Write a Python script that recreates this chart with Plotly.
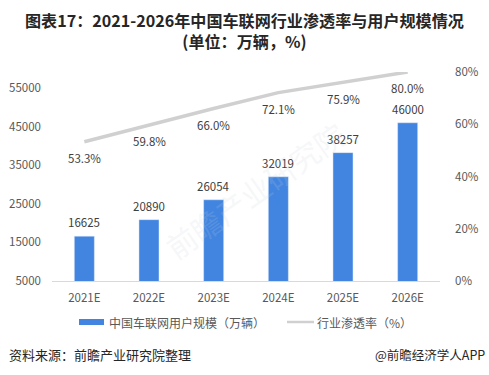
import plotly.graph_objects as go

years = ["2021E", "2022E", "2023E", "2024E", "2025E", "2026E"]
users = [16625, 20890, 26054, 32019, 38257, 46000]
rate = [0.533, 0.598, 0.660, 0.721, 0.759, 0.800]
left_ticks = [5000, 15000, 25000, 35000, 45000, 55000]
right_ticks = [0, 0.2, 0.4, 0.6, 0.8]
right_labels = ["0%", "20%", "40%", "60%", "80%"]
bar_name = "中国车联网用户规模（万辆）"
line_name = "行业渗透率（%）"

FONT = "Noto Sans CJK SC"
TXT = "#404040"
AX = "#595959"
BLUE = "#4185e0"
GRAY = "#d0d0d0"

W, H = 489, 375
L, R, T, B = 52, 49, 72, 94
pw, ph = W - L - R, H - T - B
def px(x): return (x - L) / pw
def py(y): return (H - B - y) / ph

fig = go.Figure()
fig.add_trace(go.Bar(
    x=years, y=users, name=bar_name,
    marker_color=BLUE, width=0.31, yaxis="y",
))
fig.add_trace(go.Scatter(
    x=years, y=rate, name=line_name, mode="lines",
    line=dict(color=GRAY, width=3.5), yaxis="y2",
))

for x, v in zip(years, users):
    fig.add_annotation(x=x, y=v, xref="x", yref="y", text=str(v), showarrow=False,
                       yshift=14, font=dict(size=11.5, color=TXT, family=FONT))
for x, r in zip(years, rate):
    fig.add_annotation(x=x, y=r, xref="x", yref="y2", text=f"{r*100:.1f}%", showarrow=False,
                       yshift=-16, font=dict(size=11.5, color=TXT, family=FONT))

# title
fig.add_annotation(x=px(244), y=py(30.5), xref="paper", yref="paper", xanchor="center", yanchor="middle",
                   showarrow=False,
                   text="<b>图表17：2021-2026年中国车联网行业渗透率与用户规模情况</b><br><b>(单位：万辆，%)</b>",
                   font=dict(size=16.1, color="#262626", family=FONT))

# manual legend
fig.add_shape(type="rect", xref="paper", yref="paper", x0=px(79), x1=px(104), y0=py(319), y1=py(325),
              fillcolor=BLUE, line=dict(width=0))
fig.add_annotation(x=px(107), y=py(322), xref="paper", yref="paper", xanchor="left", yanchor="middle",
                   showarrow=False, text=bar_name, font=dict(size=12, color=AX, family=FONT))
fig.add_shape(type="line", xref="paper", yref="paper", x0=px(287), x1=px(314), y0=py(322), y1=py(322),
              line=dict(color=GRAY, width=2.5))
fig.add_annotation(x=px(315), y=py(322), xref="paper", yref="paper", xanchor="left", yanchor="middle",
                   showarrow=False, text=line_name, font=dict(size=12, color=AX, family=FONT))

# footer
fig.add_annotation(x=px(7), y=py(354), xref="paper", yref="paper", xanchor="left", yanchor="middle",
                   showarrow=False, text="资料来源：前瞻产业研究院整理",
                   font=dict(size=13, color="#262626", family=FONT))
fig.add_annotation(x=px(487), y=py(354), xref="paper", yref="paper", xanchor="right", yanchor="middle",
                   showarrow=False, text="@前瞻经济学人APP",
                   font=dict(size=12.5, color="#262626", family=FONT))
# faint watermark
fig.add_annotation(x=px(255), y=py(190), xref="paper", yref="paper", showarrow=False,
                   text="前瞻产业研究院", textangle=-35,
                   font=dict(size=30, color="rgba(200,205,215,0.18)", family=FONT))

fig.update_layout(
    width=W, height=H,
    margin=dict(l=L, r=R, t=T, b=B, autoexpand=False),
    paper_bgcolor="white", plot_bgcolor="white",
    font=dict(family=FONT, color=AX, size=11),
    showlegend=False,
    xaxis=dict(type="category", showgrid=False, showline=True, linecolor="#d9d9d9",
               linewidth=1, ticks="", tickfont=dict(size=11.5, color=AX), ticklabelstandoff=6),
    yaxis=dict(range=[5000, 59150], tickvals=left_ticks, ticktext=[str(v) for v in left_ticks],
               showgrid=False, zeroline=False,
               showline=False, tickfont=dict(size=11.5, color=AX), ticklabelstandoff=10),
    yaxis2=dict(range=[0, 0.8], overlaying="y", side="right", tickvals=right_ticks,
                ticktext=right_labels, showgrid=False, zeroline=False, showline=False,
                tickfont=dict(size=11.5, color=AX), ticklabelstandoff=14),
    bargap=0.69,
)
fig.write_html("out.html", config={"displayModeBar": False},
               post_script="document.body.style.margin='0';document.body.style.overflow='hidden';")
